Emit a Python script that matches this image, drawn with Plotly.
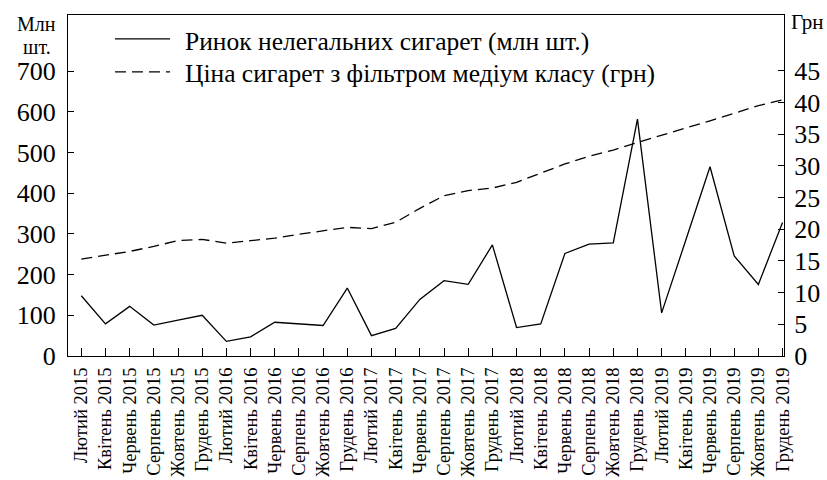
import plotly.graph_objects as go

months = ["Лютий", "Квітень", "Червень", "Серпень", "Жовтень", "Грудень"]
years = [2015, 2016, 2017, 2018, 2019]
categories = [f"{m} {y}" for y in years for m in months]

illegal_market = [148, 79, 122, 76, 88, 100,
                  36, 47, 83, 79, 75, 167,
                  50, 68, 139, 185, 176, 273,
                  70, 79, 252, 275, 278, 582,
                  106, 285, 465, 246, 176, 328]

price = [15.3, 15.9, 16.5, 17.3, 18.2, 18.4,
         17.8, 18.2, 18.6, 19.2, 19.8, 20.3,
         20.1, 21.1, 23.3, 25.3, 26.1, 26.5,
         27.4, 28.9, 30.3, 31.5, 32.5, 33.7,
         34.8, 35.9, 37.1, 38.3, 39.5, 40.4]

left_ticks = [0, 100, 200, 300, 400, 500, 600, 700]
right_ticks = [0, 5, 10, 15, 20, 25, 30, 35, 40, 45]

name1 = "Ринок нелегальних сигарет (млн шт.)"
name2 = "Ціна сигарет з фільтром медіум класу (грн)"

FONT = "Liberation Serif"
DASH = "11px,6px"

fig = go.Figure()
fig.add_trace(go.Scatter(x=categories, y=illegal_market, mode="lines", name=name1,
                         line=dict(color="black", width=1.3), showlegend=False))
fig.add_trace(go.Scatter(x=categories, y=price, mode="lines", name=name2, yaxis="y2",
                         line=dict(color="black", width=1.3, dash=DASH), showlegend=False))

# manual legend
for yy, dash in [(0.930, "solid"), (0.833, DASH)]:
    fig.add_shape(type="line", xref="paper", yref="paper", x0=0.0656, x1=0.1425, y0=yy, y1=yy,
                  line=dict(color="black", width=1.3, dash=dash))
fig.add_annotation(xref="paper", yref="paper", x=0.1606, y=0.921, text=name1, showarrow=False,
                   xanchor="left", yanchor="middle", font=dict(family=FONT, size=25.5, color="black"))
fig.add_annotation(xref="paper", yref="paper", x=0.1606, y=0.827, text=name2, showarrow=False,
                   xanchor="left", yanchor="middle", font=dict(family=FONT, size=25.5, color="black"))

# axis titles
fig.add_annotation(xref="paper", yref="paper", x=-0.0433, y=0.975, text="Млн", showarrow=False,
                   xanchor="center", yanchor="middle", font=dict(family=FONT, size=20, color="black"))
fig.add_annotation(xref="paper", yref="paper", x=-0.0433, y=0.907, text="шт.", showarrow=False,
                   xanchor="center", yanchor="middle", font=dict(family=FONT, size=20, color="black"))
fig.add_annotation(xref="paper", yref="paper", x=1.007, y=0.979, text="Грн", showarrow=False,
                   xanchor="left", yanchor="middle", font=dict(family=FONT, size=21, color="black"))

fig.update_layout(
    width=827, height=480,
    margin=dict(l=68, r=43, t=15, b=124, autoexpand=False),
    plot_bgcolor="white", paper_bgcolor="white",
    font=dict(family=FONT, color="black"),
    xaxis=dict(type="category", range=[-0.55, 29.06], tickmode="array",
               tickvals=categories, ticktext=categories,
               showline=True, linecolor="black", linewidth=1.3,
               mirror=True, ticks="inside", ticklen=8, tickcolor="black", tickwidth=1.3,
               tickangle=-90, tickfont=dict(family=FONT, size=18.5, color="black"),
               ticklabelstandoff=3,
               showgrid=False, zeroline=False, automargin=False),
    yaxis=dict(range=[0, 838], tickvals=left_ticks, showline=True, linecolor="black", linewidth=1.3,
               ticks="inside", ticklen=6, tickcolor="black", tickwidth=1.3,
               tickfont=dict(family=FONT, size=26, color="black"), showgrid=False, zeroline=False,
               ticklabelstandoff=6, automargin=False),
    yaxis2=dict(range=[0, 53.8], tickvals=right_ticks, overlaying="y", side="right",
                showline=True, linecolor="black", linewidth=1.3,
                ticks="inside", ticklen=6, tickcolor="black", tickwidth=1.3,
                tickfont=dict(family=FONT, size=26, color="black"), showgrid=False, zeroline=False,
                ticklabelstandoff=4, automargin=False),
)

fig.write_html("out.html", config={"displayModeBar": False},
               post_script="document.body.style.margin='0';")
